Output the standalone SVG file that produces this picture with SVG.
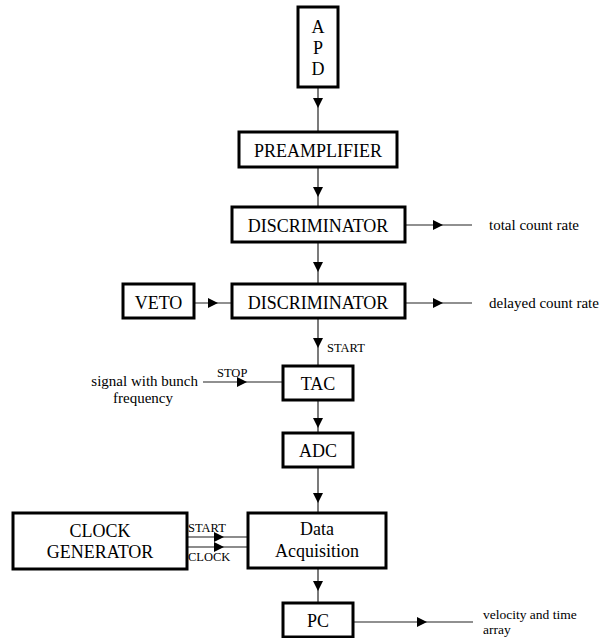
<svg xmlns="http://www.w3.org/2000/svg" width="610" height="638" viewBox="0 0 610 638">
<style>
.box{fill:#fff;stroke:#000;stroke-width:3}
.t{font-family:"Liberation Serif","Times New Roman",serif;font-size:18px;fill:#000;text-anchor:middle}
.lbl{font-family:"Liberation Serif","Times New Roman",serif;font-size:15px;fill:#000}
.sm{font-family:"Liberation Serif","Times New Roman",serif;font-size:12.5px;fill:#000}
.c{fill:none;stroke:#222;stroke-width:1.2;marker-mid:url(#ah)}
.c2{fill:none;stroke:#666;stroke-width:1.4;marker-mid:url(#ah)}
</style>
<defs>
<marker id="ah" viewBox="0 0 10 10" refX="10" refY="5" markerUnits="userSpaceOnUse" markerWidth="11" markerHeight="10" orient="auto">
<path d="M0,0 L10,5 L0,10 z" fill="#000"/>
</marker>
</defs>
<rect width="610" height="638" fill="#fff"/>
<g id="connectors">
<path class="c" d="M318,87 L318,108 L318,132"/>
<path class="c" d="M318,167 L318,197 L318,207"/>
<path class="c" d="M318,242 L318,272 L318,284"/>
<path class="c" d="M318,318 L318,348 L318,366"/>
<path class="c" d="M318,400 L318,428 L318,433"/>
<path class="c" d="M318,467 L318,503 L318,513"/>
<path class="c" d="M318,568 L318,591 L318,603"/>
<path class="c" d="M405,225 L443,225 L472,225"/>
<path class="c" d="M405,303 L443,303 L472,303"/>
<path class="c" d="M194,303 L218,303 L232,303"/>
<path class="c" d="M203,382 L247,382 L283,382"/>
<path class="c2" d="M187,537 L224,537 L248,537"/>
<path class="c2" d="M187,547 L224,547 L248,547"/>
<path class="c" d="M353,622 L427,622 L473,622"/>
</g>
<g id="apd"><rect class="box" x="298" y="7" width="40" height="80"/>
<text class="t" x="318" y="33">A</text><text class="t" x="318" y="54">P</text><text class="t" x="318" y="75">D</text></g>
<g id="preamplifier"><rect class="box" x="239" y="132" width="158" height="35"/><text class="t" x="318" y="157">PREAMPLIFIER</text></g>
<g id="discriminator1"><rect class="box" x="232" y="207" width="173" height="35"/><text class="t" x="318" y="232">DISCRIMINATOR</text></g>
<g id="discriminator2"><rect class="box" x="232" y="284" width="173" height="34"/><text class="t" x="318" y="309">DISCRIMINATOR</text></g>
<g id="veto"><rect class="box" x="123" y="284" width="71" height="34"/><text class="t" x="158.5" y="309">VETO</text></g>
<g id="tac"><rect class="box" x="283" y="366" width="70" height="34"/><text class="t" x="318" y="390">TAC</text></g>
<g id="adc"><rect class="box" x="283" y="433" width="70" height="34"/><text class="t" x="318" y="457">ADC</text></g>
<g id="daq"><rect class="box" x="248" y="513" width="138" height="55"/><text class="t" x="317" y="535">Data</text><text class="t" x="317" y="557">Acquisition</text></g>
<g id="clock"><rect class="box" x="13" y="513" width="174" height="56"/><text class="t" x="100" y="537">CLOCK</text><text class="t" x="100" y="558">GENERATOR</text></g>
<g id="pc"><rect class="box" x="283" y="603" width="70" height="34"/><text class="t" x="318" y="627">PC</text></g>
<g id="labels">
<text class="lbl" x="489" y="230">total count rate</text>
<text class="lbl" x="489" y="308">delayed count rate</text>
<text class="sm" x="327" y="352">START</text>
<text class="sm" x="217" y="377">STOP</text>
<text class="lbl" x="198" y="386" text-anchor="end">signal with bunch</text>
<text class="lbl" x="143" y="403" text-anchor="middle">frequency</text>
<text class="sm" x="188" y="532">START</text>
<text class="sm" x="188" y="561">CLOCK</text>
<text class="lbl" x="483" y="619" style="font-size:13.5px">velocity and time</text>
<text class="lbl" x="483" y="634" style="font-size:13.5px">array</text>
</g>
</svg>
